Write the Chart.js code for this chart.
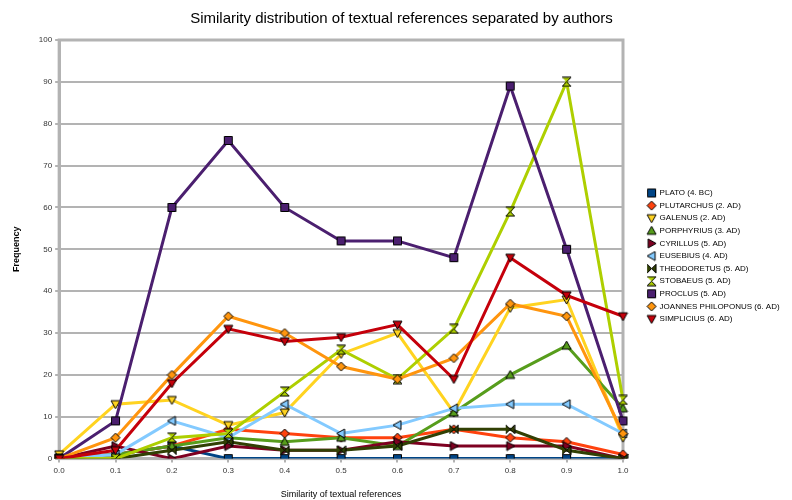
<!DOCTYPE html>
<html>
<head>
<meta charset="utf-8">
<script src="https://cdn.jsdelivr.net/npm/chart.js@4/dist/chart.umd.min.js"></script>
<style>
  html, body { margin: 0; padding: 0; background: #fff; }
  #wrap { width: 792px; height: 500px; }
</style>
</head>
<body>
<div id="wrap"><canvas id="simchart" width="792" height="500"></canvas></div>
<script>
// similarity buckets
const similarity = ['0.0', '0.1', '0.2', '0.3', '0.4', '0.5', '0.6', '0.7', '0.8', '0.9', '1.0'];

// frequency per author
const plato       = [0, 1, 3, 0, 0, 0, 0, 0, 0, 0, 0];
const plutarchus  = [0, 1, 3, 7, 6, 5, 5, 7, 5, 4, 1];
const galenus     = [1, 13, 14, 8, 11, 25, 30, 11, 36, 38, 5];
const porphyrius  = [0, 1, 3, 5, 4, 5, 3, 11, 20, 27, 12];
const cyrillus    = [0, 3, 0, 3, 2, 2, 4, 3, 3, 3, 0];
const eusebius    = [0, 1, 9, 5, 13, 6, 8, 12, 13, 13, 6];
const theodoretus = [0, 0, 2, 4, 2, 2, 3, 7, 7, 2, 0];
const stobaeus    = [0, 0, 5, 6, 16, 26, 19, 31, 59, 90, 14];
const proclus     = [0, 9, 60, 76, 60, 52, 52, 48, 89, 50, 9];
const joannes     = [0, 5, 20, 34, 30, 22, 19, 24, 37, 34, 6];
const simplicius  = [0, 2, 18, 31, 28, 29, 32, 19, 48, 39, 34];

const authorNames = [
    'PLATO (4. BC)', 'PLUTARCHUS (2. AD)', 'GALENUS (2. AD)', 'PORPHYRIUS (3. AD)',
    'CYRILLUS (5. AD)', 'EUSEBIUS (4. AD)', 'THEODORETUS (5. AD)', 'STOBAEUS (5. AD)',
    'PROCLUS (5. AD)', 'JOANNES PHILOPONUS (6. AD)', 'SIMPLICIUS (6. AD)'
];

const seriesValues = [plato, plutarchus, galenus, porphyrius, cyrillus, eusebius,
    theodoretus, stobaeus, proclus, joannes, simplicius];

const colors = ['#004586', '#ff420e', '#ffd320', '#579d1c', '#7e0021', '#83caff',
    '#314004', '#aecf00', '#4b1f6f', '#ff950e', '#c5000b'];
const shapes = ['square', 'diamond', 'down', 'up', 'right', 'left',
    'bowtie', 'hourglass', 'square', 'diamond', 'down'];

// little marker pictures, like the office chart symbols
function makeMarker(shape, color) {
    const s = 11;
    const c = document.createElement('canvas');
    c.width = s; c.height = s;
    const g = c.getContext('2d');
    const a = 1, b = s - 1, m = s / 2;
    g.beginPath();
    if (shape === 'square') {
        g.rect(a + 0.5, a + 0.5, b - a - 1, b - a - 1);
    } else if (shape === 'diamond') {
        g.moveTo(m, a); g.lineTo(b, m); g.lineTo(m, b); g.lineTo(a, m);
    } else if (shape === 'down') {
        g.moveTo(a, a + 1); g.lineTo(b, a + 1); g.lineTo(m, b);
    } else if (shape === 'up') {
        g.moveTo(m, a); g.lineTo(b, b - 1); g.lineTo(a, b - 1);
    } else if (shape === 'right') {
        g.moveTo(a + 1, a); g.lineTo(b, m); g.lineTo(a + 1, b);
    } else if (shape === 'left') {
        g.moveTo(b - 1, a); g.lineTo(a, m); g.lineTo(b - 1, b);
    } else if (shape === 'bowtie') {
        g.moveTo(a, a); g.lineTo(m, m); g.lineTo(a, b);
        g.moveTo(b, a); g.lineTo(m, m); g.lineTo(b, b);
    } else if (shape === 'hourglass') {
        g.moveTo(a, a); g.lineTo(b, a); g.lineTo(m, m);
        g.moveTo(a, b); g.lineTo(b, b); g.lineTo(m, m);
    }
    g.closePath();
    g.fillStyle = color;
    g.fill();
    g.lineWidth = 1;
    g.strokeStyle = '#000';
    g.stroke();
    return c;
}

const datasets = seriesValues.map(function (vals, i) {
    const marker = makeMarker(shapes[i], colors[i]);
    return {
        label: authorNames[i],
        data: vals,
        borderColor: colors[i],
        backgroundColor: colors[i],
        borderWidth: 3,
        pointStyle: marker,
        pointRadius: 5,
        pointHoverRadius: 5,
        tension: 0,
        fill: false,
        order: -i
    };
});

// grey frame round the plot
const frame = {
    id: 'frame',
    beforeDatasetsDraw(chart) {
        const a = chart.chartArea;
        const g = chart.ctx;
        g.save();
        g.strokeStyle = '#b3b3b3';
        g.lineWidth = 3;
        g.strokeRect(a.left, a.top, a.right - a.left, a.bottom - a.top);
        g.restore();
    }
};

// fixed legend column on the right, items pushed away from the plot
const legendSpot = {
    id: 'legendSpot',
    beforeInit(chart) {
        const lg = chart.legend;
        if (!lg) return;
        const fit = lg.fit;
        lg.fit = function () {
            fit.call(this);
            if (!this.isHorizontal()) this.width = 169;
        };
        const draw = lg.draw;
        lg.draw = function () {
            const g = this.ctx;
            g.save();
            g.translate(20, 3);
            draw.call(this);
            g.restore();
        };
    }
};

const tickFont = { family: 'Liberation Sans', size: 8 };

new Chart(document.getElementById('simchart'), {
    type: 'line',
    data: { labels: similarity, datasets: datasets },
    plugins: [frame, legendSpot],
    options: {
        responsive: false,
        animation: false,
        layout: { padding: { left: 11, right: 0, top: 6, bottom: 0 } },
        plugins: {
            title: {
                display: true,
                text: 'Similarity distribution of textual references separated by authors',
                color: '#000',
                font: { family: 'Liberation Sans', size: 15, weight: 'normal' },
                padding: { top: 4, bottom: 12 }
            },
            legend: {
                position: 'right',
                labels: {
                    usePointStyle: true,
                    boxWidth: 9,
                    boxHeight: 9,
                    padding: 4.6,
                    color: '#000',
                    font: { family: 'Liberation Sans', size: 8 },
                    sort: function (a, b) { return a.datasetIndex - b.datasetIndex; }
                }
            },
            tooltip: { enabled: false }
        },
        scales: {
            x: {
                type: 'category',
                offset: false,
                grid: { display: true, drawOnChartArea: false, color: '#b3b3b3', lineWidth: 2, tickLength: 4 },
                border: { color: '#b3b3b3', width: 3 },
                ticks: { color: '#333', font: tickFont, maxRotation: 0, padding: 3 },
                title: {
                    display: true,
                    text: 'Similarity of textual references',
                    color: '#000',
                    font: { family: 'Liberation Sans', size: 9 },
                    padding: { top: 11, bottom: 0 }
                }
            },
            y: {
                min: 0,
                max: 100,
                ticks: { stepSize: 10, color: '#333', font: tickFont, padding: 3 },
                grid: { color: '#b3b3b3', lineWidth: 2, tickLength: 4 },
                border: { color: '#b3b3b3', width: 3 },
                title: {
                    display: true,
                    text: 'Frequency',
                    color: '#000',
                    font: { family: 'Liberation Sans', size: 9, weight: 'bold' },
                    padding: { top: 0, bottom: 14 }
                }
            }
        }
    }
});
</script>
</body>
</html>
